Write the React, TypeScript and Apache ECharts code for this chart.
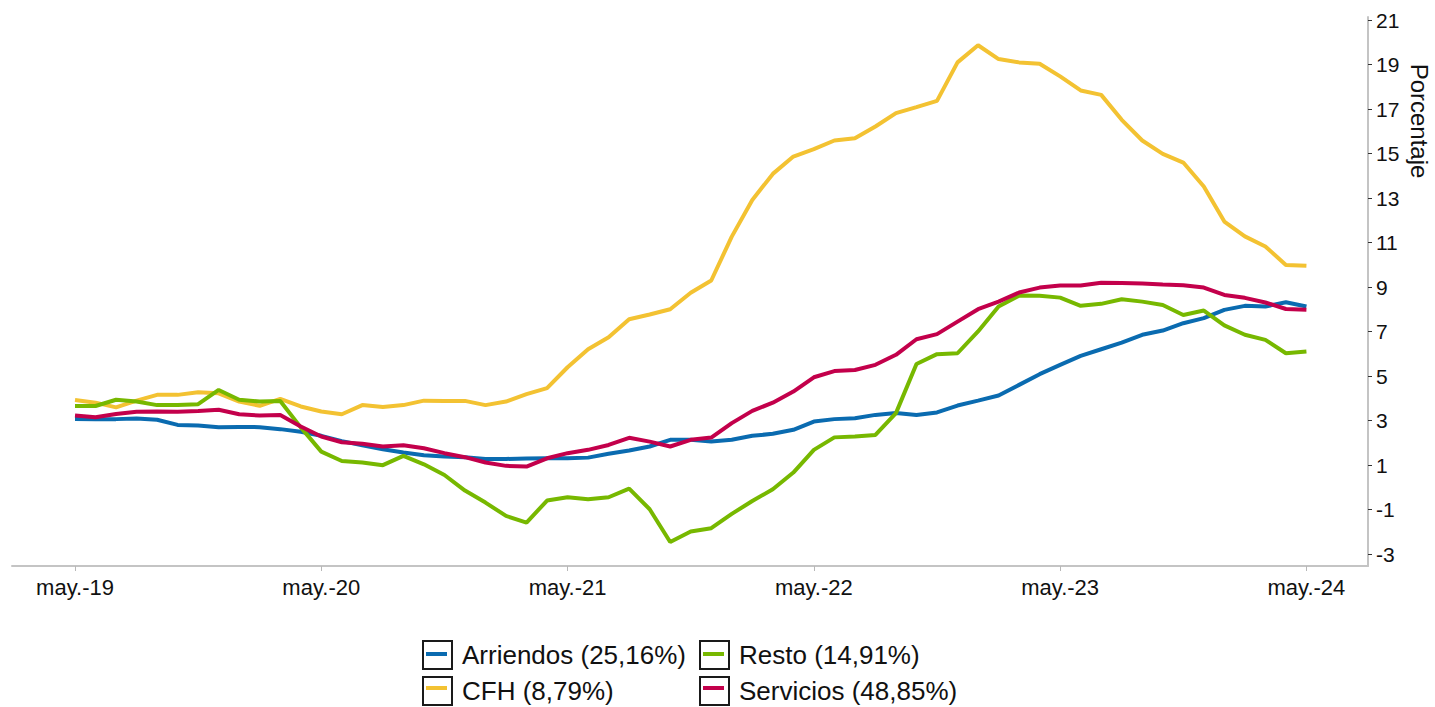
import React, { useEffect, useRef } from "react";
import * as echarts from "echarts";

const xTickLabels = ["may.-19", "may.-20", "may.-21", "may.-22", "may.-23", "may.-24"];
const yTicks = [-3, -1, 1, 3, 5, 7, 9, 11, 13, 15, 17, 19, 21];

const seriesNames = ["Arriendos (25,16%)", "CFH (8,79%)", "Resto (14,91%)", "Servicios (48,85%)"];
const seriesColors = ["#0a6bb0", "#f3c232", "#77b800", "#c3004b"];

// Monthly values, may-2019 .. may-2024 (61 months)
const arriendos = [
  3.08, 3.07, 3.07, 3.1, 3.04, 2.81, 2.78, 2.71, 2.72, 2.71,
  2.62, 2.5, 2.32, 2.08, 1.9, 1.72, 1.57, 1.45, 1.39, 1.36,
  1.28, 1.28, 1.3, 1.31, 1.31, 1.34, 1.51, 1.66, 1.84, 2.14,
  2.14, 2.06, 2.14, 2.32, 2.41, 2.59, 2.96, 3.07, 3.11, 3.26,
  3.34, 3.26, 3.37, 3.68, 3.9, 4.13, 4.61, 5.09, 5.51, 5.91,
  6.21, 6.51, 6.86, 7.05, 7.38, 7.61, 7.98, 8.16, 8.13, 8.32,
  8.13,
];
const cfh = [
  3.93, 3.81, 3.6, 3.9, 4.16, 4.16, 4.28, 4.23, 3.86, 3.67,
  3.98, 3.64, 3.41, 3.29, 3.7, 3.62, 3.7, 3.9, 3.88, 3.89,
  3.7, 3.86, 4.19, 4.46, 5.4, 6.21, 6.75, 7.56, 7.77, 8.01,
  8.75, 9.3, 11.27, 12.92, 14.09, 14.87, 15.2, 15.59, 15.69, 16.22,
  16.82, 17.09, 17.37, 19.1, 19.87, 19.25, 19.1, 19.04, 18.47, 17.84,
  17.64, 16.52, 15.59, 14.99, 14.6, 13.52, 11.95, 11.28, 10.83, 10.0,
  9.96,
];
const resto = [
  3.66, 3.66, 3.94, 3.86, 3.7, 3.7, 3.74, 4.38, 3.94, 3.86,
  3.88, 2.7, 1.61, 1.19, 1.12, 1.0, 1.42, 1.04, 0.56, -0.14,
  -0.68, -1.28, -1.58, -0.59, -0.44, -0.53, -0.44, -0.05, -0.98, -2.45,
  -1.98, -1.83, -1.19, -0.61, -0.08, 0.67, 1.69, 2.25, 2.29, 2.36,
  3.34, 5.55, 5.99, 6.03, 7.01, 8.13, 8.62, 8.61, 8.53, 8.16,
  8.25, 8.46, 8.35, 8.2, 7.75, 7.95, 7.28, 6.86, 6.63, 6.03,
  6.11,
];
const servicios = [
  3.23, 3.15, 3.3, 3.4, 3.41, 3.4, 3.43, 3.49, 3.29, 3.23,
  3.25, 2.74, 2.29, 2.03, 1.96, 1.84, 1.9, 1.76, 1.54, 1.36,
  1.12, 0.97, 0.94, 1.31, 1.54, 1.69, 1.91, 2.23, 2.06, 1.84,
  2.14, 2.24, 2.89, 3.44, 3.81, 4.31, 4.95, 5.23, 5.28, 5.51,
  5.96, 6.66, 6.89, 7.45, 8.01, 8.35, 8.76, 8.98, 9.07, 9.07,
  9.2, 9.19, 9.16, 9.12, 9.09, 8.98, 8.65, 8.52, 8.31, 8.02,
  7.98,
];

const seriesValues = [arriendos, cfh, resto, servicios];
const FONT = "Liberation Sans, Arial, sans-serif";

export default function App() {
  const ref = useRef<HTMLDivElement>(null);

  useEffect(() => {
    if (!ref.current) return;
    const chart = echarts.init(ref.current, null, { renderer: "svg" });

    const xTickValues = xTickLabels.map((_, k) => k * 12);

    const legendBoxLeft = [422, 699];
    const legendTop = 640;
    const rowStep = 34;
    // legend layout: column 0 -> Arriendos, CFH; column 1 -> Resto, Servicios
    const legendCols = [
      [0, 1],
      [2, 3],
    ];

    const innerLines: any[] = [];
    legendCols.forEach((col, c) => {
      col.forEach((si, r) => {
        const cy = legendTop + 14 + r * rowStep;
        innerLines.push({
          type: "line",
          z: 100,
          shape: { x1: legendBoxLeft[c] + 4, y1: cy, x2: legendBoxLeft[c] + 25, y2: cy },
          style: { stroke: seriesColors[si], lineWidth: 4 },
        });
      });
    });

    const legendCommon = {
      orient: "vertical",
      top: legendTop,
      height: 120,
      padding: 0,
      itemWidth: 29,
      itemHeight: 28,
      itemGap: rowStep - 28,
      icon: "rect",
      selectedMode: false,
      itemStyle: { color: "#ffffff", borderColor: "#1a1a1a", borderWidth: 2 },
      textStyle: {
        fontSize: 26,
        lineHeight: 28,
        fontFamily: FONT,
        color: "#111",
        padding: [0, 0, 0, 5],
      },
    };

    chart.setOption({
      animation: false,
      grid: { left: 12, right: 67, top: 17, bottom: 141, containLabel: false },
      xAxis: {
        type: "value",
        min: -3.07,
        max: 63,
        axisLine: { show: true, onZero: false, lineStyle: { color: "#c4c4c4", width: 2 } },
        axisTick: { show: true, customValues: xTickValues, length: 5, lineStyle: { color: "#b8b8b8" } },
        axisLabel: {
          customValues: xTickValues,
          formatter: (v: number) => xTickLabels[Math.round(v / 12)] ?? "",
          fontSize: 22,
          fontFamily: FONT,
          color: "#111",
          margin: 10,
        },
        splitLine: { show: false },
      },
      yAxis: {
        type: "value",
        position: "right",
        min: -3.53,
        max: 21.14,
        axisLine: { show: true, onZero: false, lineStyle: { color: "#c4c4c4", width: 2 } },
        axisTick: { show: true, customValues: yTicks, length: 4, lineStyle: { color: "#333" } },
        axisLabel: {
          customValues: yTicks,
          fontSize: 21,
          fontFamily: FONT,
          color: "#111",
          margin: 8,
        },
        splitLine: { show: false },
      },
      legend: [
        { ...legendCommon, left: legendBoxLeft[0], data: legendCols[0].map((i) => seriesNames[i]) },
        { ...legendCommon, left: legendBoxLeft[1], data: legendCols[1].map((i) => seriesNames[i]) },
      ],
      graphic: [
        {
          type: "text",
          x: 1419,
          y: 121,
          rotation: -Math.PI / 2,
          style: {
            text: "Porcentaje",
            fontSize: 24,
            fontFamily: FONT,
            fill: "#111",
            align: "center",
            verticalAlign: "middle",
          },
        },
        ...innerLines,
      ],
      series: seriesNames.map((name, si) => ({
        name,
        type: "line",
        symbol: "none",
        showSymbol: false,
        color: seriesColors[si],
        lineStyle: { width: 4, color: seriesColors[si] },
        data: seriesValues[si].map((v, i) => [i, v]),
        z: 2 + si,
      })),
    });

    return () => chart.dispose();
  }, []);

  return (
    <div
      ref={ref}
      style={{ position: "fixed", left: 0, top: 0, width: 1435, height: 707, background: "#fff" }}
    />
  );
}
